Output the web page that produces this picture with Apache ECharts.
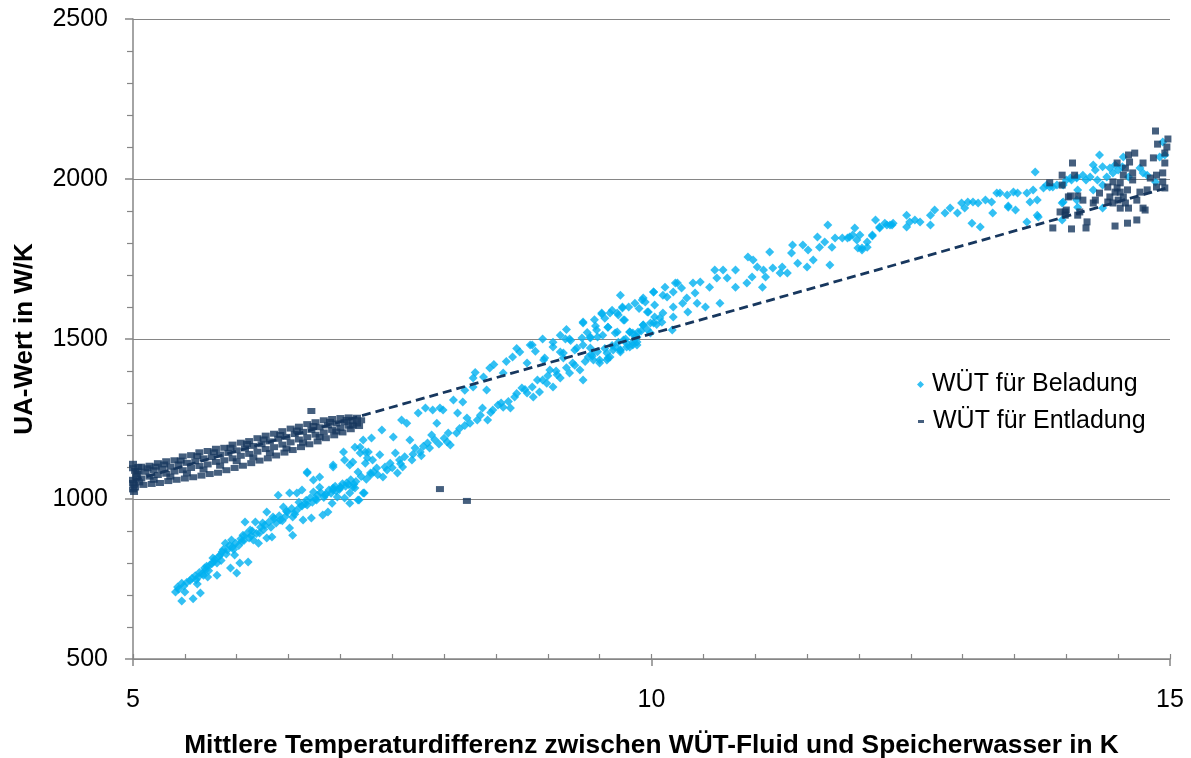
<!DOCTYPE html>
<html>
<head>
<meta charset="utf-8">
<script src="https://cdn.jsdelivr.net/npm/echarts@6/dist/echarts.min.js"></script>
<style>html,body{margin:0;padding:0;background:#fff}#c{width:1191px;height:758px}</style>
</head>
<body>
<div id="c"></div>
<script>
// ---- data ----
var xTicks = [5, 10, 15];
var yTicks = [500, 1000, 1500, 2000, 2500];
var seriesNames = ['WÜT für Beladung', 'WÜT für Entladung'];

// WÜT für Beladung (x in K, UA in W/K)
var beladung = [
[5.41,709],[5.43,725],[5.47,737],[5.47,681],[5.50,709],[5.58,688],[5.62,734],[5.63,756],[5.65,706],[5.68,762],
[5.69,784],[5.72,756],[5.74,794],[5.77,816],[5.81,800],[5.81,762],[5.84,825],[5.89,862],[5.91,841],[5.94,784],
[5.95,872],[5.98,825],[6.00,769],[6.03,800],[6.06,887],[6.08,928],[6.11,803],[6.13,903],[6.16,872],[6.18,928],
[6.21,862],[6.22,894],[6.25,925],[6.29,959],[6.29,878],[6.34,881],[6.35,944],[6.40,1012],[6.42,934],[6.45,975],
[6.49,959],[6.51,909],[6.54,944],[6.54,887],[6.58,1019],[6.61,975],[6.64,934],[6.68,1081],[6.68,981],[6.72,941],
[6.74,1022],[6.77,997],[6.83,950],[6.85,1012],[6.88,959],[6.93,1106],[6.93,1028],[7.00,1037],[7.03,1147],[7.04,1003],
[7.09,987],[7.12,1037],[7.18,997],[7.19,1162],[7.23,1019],[7.26,1128],[7.29,1075],
[5.55,745],[5.60,760],[5.70,778],[5.78,805],[5.86,835],[5.96,850],[6.05,868],[6.14,885],[6.26,905],[6.38,925],
[6.47,945],[6.57,962],[6.66,985],[6.76,1000],[6.86,1015],[6.96,1025],[7.08,1045],[7.15,1055],
[5.44,718],[5.49,728],[5.52,740],[5.57,752],[5.61,748],[5.64,770],[5.67,768],[5.71,790],[5.73,776],[5.76,798],
[5.79,812],[5.83,820],[5.85,808],[5.87,842],[5.90,828],[5.93,855],[5.97,842],[5.99,862],[6.02,855],[6.04,876],
[6.07,870],[6.09,890],[6.12,878],[6.15,900],[6.19,892],[6.23,912],[6.27,918],[6.31,928],[6.33,912],[6.36,938],
[6.41,948],[6.44,932],[6.48,962],[6.53,970],[6.56,952],[6.60,990],[6.63,978],[6.67,996],[6.71,1004],[6.73,990],
[6.78,1012],[6.81,1020],[6.84,1005],[6.89,1028],[6.91,1018],[6.95,1040],[6.99,1030],[7.02,1048],[7.05,1040],[7.10,1060],
[7.13,1046],[7.20,1070],[7.25,1062],[7.32,1085],[7.36,1076],[7.43,1100],[7.50,1098],[7.58,1110],[7.62,1132],[7.70,1140],
[7.78,1135],[7.80,1165],[7.91,1185],[7.95,1172],[8.00,1190],
[6.68,1084],[6.74,1059],[6.80,1069],[7.12,1116],[7.24,1147],[6.51,1019],[6.63,1028],[6.80,1037],
[6.93,1034],[7.00,1037],[7.06,1050],[7.09,1019],[7.14,1034],[7.22,1019],[7.17,997],[6.97,1006],[6.92,987],
[6.93,1100],[7.04,1122],[7.09,1106],[7.14,1162],[7.17,1084],[7.19,1144],[7.22,1184],[7.24,1112],[7.27,1147],
[7.29,1081],[7.30,1191],[7.31,1122],[7.35,1097],[7.38,1138],[7.40,1216],[7.41,1069],[7.45,1091],[7.48,1112],
[7.51,1194],[7.53,1144],[7.55,1081],[7.57,1122],[7.59,1247],[7.60,1100],[7.64,1237],[7.67,1184],[7.69,1122],
[7.72,1159],[7.75,1269],[7.77,1147],[7.82,1284],[7.84,1175],[7.86,1159],[7.88,1200],[7.89,1278],[7.93,1237],
[7.96,1284],[7.99,1278],[8.03,1178],[8.04,1206],[8.06,1169],[8.09,1309],[8.12,1206],[8.13,1269],[8.18,1303],
[8.22,1253],[8.25,1237],[8.28,1378],[8.28,1350],[8.32,1247],[8.37,1284],[8.38,1381],[8.41,1341],[8.42,1247],
[8.44,1409],[8.47,1278],[8.52,1294],[8.57,1394],[8.57,1287],[8.64,1284],[8.66,1444],[8.68,1319],[8.73,1459],
[8.75,1347],[8.80,1425],[8.80,1331],[8.83,1481],[8.86,1319],[8.90,1372],[8.92,1334],[8.96,1434],[8.99,1362],
[9.02,1403],[9.05,1350],[9.09,1388],[9.12,1512],[9.12,1378],[9.15,1456],[9.21,1394],[9.24,1425],[9.28,1472],
[9.31,1403],[9.34,1550],[9.34,1372],[9.39,1444],[9.41,1503],[9.44,1434],[9.47,1528],[9.50,1425],[9.53,1512],
[9.57,1456],[9.60,1444],[9.65,1475],[9.70,1466],[9.73,1497],[9.79,1475],[9.82,1519],[9.86,1491],[9.92,1544],
[9.99,1519],
[8.15,1220],[8.20,1230],[8.35,1262],[8.45,1270],[8.55,1300],[8.62,1305],[8.70,1330],[8.78,1342],[8.85,1350],
[8.95,1372],[9.00,1385],[9.08,1400],[9.18,1410],[9.26,1418],[9.36,1430],[9.42,1452],[9.48,1460],[9.55,1470],
[9.62,1480],[9.68,1490],[9.75,1500],[9.84,1508],[9.90,1525],[9.96,1530],[10.05,1545],[10.10,1552],
[8.20,1340],[8.30,1395],[8.48,1420],[8.60,1430],[8.70,1470],[8.88,1462],[8.95,1500],[9.05,1490],[9.18,1530],
[9.22,1495],[9.38,1520],[9.45,1560],[9.55,1565],[9.62,1590],[9.68,1575],[9.78,1600],[9.84,1612],[9.88,1595],
[9.52,1578],[9.60,1581],[9.67,1581],[9.72,1597],[9.74,1559],[9.34,1553],[9.46,1541],[9.58,1537],[9.17,1500],
[9.21,1500],[9.33,1503],[9.41,1506],[9.48,1506],[9.67,1522],[9.79,1522],[9.87,1522],[9.91,1622],[10.02,1647],
[10.23,1675],[10.11,1637],[10.21,1647],[9.97,1584],[10.03,1606],[10.21,1569],[10.02,1550],[8.85,1481],[9.05,1475],
[9.12,1459],[8.97,1441],[9.15,1441],[9.26,1466],[9.34,1481],[9.41,1472],[9.43,1447],[9.50,1434],[9.58,1441],
[9.70,1466],[9.76,1475],[9.82,1481],
[9.57,1434],[9.63,1466],[9.70,1459],[9.76,1487],[9.82,1491],[9.86,1481],
[9.52,1581],[9.58,1537],[9.65,1519],[9.70,1637],[9.72,1600],[9.73,1559],[9.79,1522],[9.86,1506],[9.92,1628],
[9.92,1544],[9.94,1616],[9.96,1584],[9.99,1550],[10.02,1647],[10.03,1569],[10.08,1566],[10.11,1581],[10.13,1662],
[10.15,1631],[10.20,1528],[10.21,1600],[10.25,1675],[10.29,1659],[10.30,1612],[10.34,1628],[10.35,1584],[10.40,1675],
[10.42,1644],[10.44,1612],[10.47,1678],[10.52,1600],[10.56,1662],[10.61,1716],[10.63,1691],[10.66,1612],[10.69,1716],
[10.73,1691],[10.81,1716],[10.81,1662],[10.92,1675],[10.93,1756],[10.97,1694],[10.98,1747],[11.02,1725],[11.07,1662],
[11.08,1716],[11.10,1694],[11.14,1772],[11.17,1722],[11.24,1706],[11.26,1725],[11.31,1706],[11.35,1769],[11.36,1794],
[11.41,1737],[11.46,1794],[11.50,1725],[11.51,1778],[11.56,1747],[11.60,1819],[11.62,1787],[11.67,1803],[11.70,1856],
[11.72,1731],[11.74,1787],[11.77,1816],[11.84,1816],[11.89,1816],[11.91,1819],[11.94,1825],[11.98,1809],[11.99,1784],
[12.03,1778],[12.08,1803],[12.13,1822],[12.16,1872],[12.20,1847],[12.25,1862],[12.30,1856],[12.33,1862],
[11.96,1847],[12.01,1825],[12.03,1784],[12.08,1787],[12.13,1825],[12.20,1850],[12.27,1856],[12.32,1856],
[12.46,1887],[12.46,1850],[12.49,1866],[12.54,1872],[12.59,1866],[12.69,1856],[12.69,1887],[12.73,1903],[12.83,1894],
[12.88,1909],[12.95,1894],[12.99,1925],[13.02,1909],[13.05,1928],[13.09,1862],[13.10,1928],[13.15,1925],[13.17,1850],
[13.22,1934],[13.28,1928],[13.29,1894],[13.33,1956],[13.43,1950],[13.44,1912],[13.49,1959],[13.51,1903],[13.53,1956],
[13.62,1866],[13.65,1928],[13.68,1966],[13.70,2022],[13.72,1934],[13.73,1881],[13.78,1972],[13.84,1975],[13.91,1981],
[13.97,1928],[14.00,1997],[14.04,2003],[14.10,2003],[14.11,1966],[14.11,1912],
[13.36,1956],[13.44,1916],[13.62,1956],[13.72,1887],[13.81,1981],[13.87,1975],[13.96,1925],[13.97,1981],[14.05,1997],
[14.10,2006],[14.16,2012],[14.19,1997],[14.23,2006],[14.26,2044],[14.28,2028],[14.30,1997],[14.32,2075],[14.35,2038],
[14.35,1981],[14.39,2006],[14.42,2034],[14.45,2019],[14.47,2044],[14.50,2028],[14.54,2038],[14.55,2069],[14.60,2006],
[14.71,2034],[14.74,2019],[14.78,2012],[14.86,1991],[14.90,2069],[14.93,2116],[14.95,2075],[14.10,1934],[14.26,1966],
[14.35,1909],[13.96,1872]
];

// WÜT für Entladung, dense band at low temperature difference
var entladungBand = [
[5.00,1096],[5.08,1101],[5.16,1104],[5.24,1112],[5.32,1118],[5.40,1121],[5.48,1133],[5.56,1137],[5.64,1146],[5.72,1150],
[5.80,1157],[5.88,1160],[5.96,1170],[6.04,1176],[6.12,1181],[6.20,1190],[6.28,1198],[6.36,1204],[6.44,1212],[6.52,1220],
[6.60,1226],[6.68,1234],[6.76,1240],[6.84,1246],[6.92,1250],[7.00,1253],[7.08,1255],[7.16,1254],
[5.04,1078],[5.12,1085],[5.20,1090],[5.28,1094],[5.36,1101],[5.44,1108],[5.52,1113],[5.60,1118],[5.68,1127],[5.76,1131],
[5.84,1139],[5.92,1144],[6.00,1152],[6.08,1158],[6.16,1166],[6.24,1171],[6.32,1180],[6.40,1188],[6.48,1194],[6.56,1203],
[6.64,1210],[6.72,1216],[6.80,1224],[6.88,1230],[6.96,1236],[7.04,1240],[7.12,1244],[7.20,1246],
[5.00,1060],[5.08,1064],[5.16,1070],[5.24,1075],[5.32,1079],[5.40,1086],[5.48,1090],[5.56,1097],[5.64,1103],[5.72,1108],
[5.80,1116],[5.88,1121],[5.96,1127],[6.04,1135],[6.12,1141],[6.20,1148],[6.28,1156],[6.36,1162],[6.44,1170],[6.52,1177],
[6.60,1186],[6.68,1193],[6.76,1201],[6.84,1208],[6.92,1216],[7.00,1222],[7.08,1229],[7.16,1236],
[5.02,1036],[5.10,1044],[5.18,1047],[5.26,1050],[5.34,1056],[5.42,1060],[5.50,1064],[5.58,1068],[5.66,1073],[5.74,1078],
[5.82,1082],[5.90,1090],[5.98,1097],[6.06,1104],[6.14,1112],[6.22,1120],[6.30,1127],[6.38,1136],[6.46,1145],[6.54,1153],
[6.62,1162],[6.70,1171],[6.78,1180],[6.86,1190],[6.94,1199],[7.02,1208],[7.10,1218],[7.18,1228],
[5.05,1086],[5.14,1096],[5.22,1101],[5.30,1108],[5.46,1120],[5.62,1134],[5.78,1146],[5.94,1160],[6.10,1172],[6.26,1186],
[6.42,1200],[6.58,1214],[6.74,1228],[6.90,1241],[7.06,1247],
[5.06,1052],[5.20,1060],[5.36,1070],[5.52,1080],[5.68,1092],[5.84,1104],[6.00,1118],[6.16,1130],[6.32,1144],[6.48,1158],
[6.64,1176],[6.80,1194],[6.96,1211],[7.12,1230],
[5.00,1030],[5.01,1045],[5.02,1088],[5.03,1070],[5.05,1100],[5.00,1050],[5.00,1110],[5.01,1022],
[6.72,1275],[7.96,1031],[8.22,994]
];

// WÜT für Entladung, cluster at high temperature difference
var entladungHigh = [
[14.86,2150],[14.98,2125],[14.88,2109],[14.97,2100],[14.95,2081],[14.95,2050],[14.84,2066],[14.66,2081],[14.60,2075],
[14.61,2053],[14.74,2050],[14.49,2050],[14.57,2034],[14.64,2019],[14.93,2019],[14.87,2012],[14.81,2003],[14.64,1997],
[14.55,2012],[14.52,1988],[14.45,1991],[14.40,1975],[14.49,1972],[14.59,1966],[14.55,1944],[14.50,1934],[14.57,1925],
[14.52,1909],[14.78,1966],[14.71,1959],[14.87,1975],[14.93,1991],[14.95,1972],[14.68,1934],[14.52,1959],[14.47,1959],
[14.42,1944],[14.40,1928],[14.45,1925],[14.32,1956],[14.28,1934],[14.26,1925],[14.60,1909],[14.74,1909],[14.76,1903],
[14.68,1872],[14.59,1862],[14.47,1853],[14.20,1866],[14.19,1847],[14.05,1844],[13.87,1847],[14.08,2012],[13.96,2012],
[13.84,1988],[13.96,1981],[14.11,1947],[14.16,1934],[14.02,1944],[13.99,1897],[13.94,1897],[14.00,1903],[14.13,1897],
[14.06,2050],[14.04,1947],[14.11,1887],[13.99,1887]
];

// linear trend of Entladung
var trendX = [5, 15];
var trendY = [1058, 1975];

// ---- chart ----
var LIGHT = '#00B0F0', DARK = '#17375E', GRAY = '#868686';
var FONT = 'Liberation Sans, Arial, sans-serif';
var chart = echarts.init(document.getElementById('c'));
var trend = trendX.map(function (x, i) { return [x, trendY[i]]; });

chart.setOption({
  animation: false,
  backgroundColor: '#fff',
  textStyle: { fontFamily: FONT },
  grid: { left: 133, right: 21, top: 19, bottom: 99, containLabel: false, outerBoundsMode: 'none' },
  legend: [
    { data: [{ name: seriesNames[0], icon: 'diamond' }], left: 912, top: 367, itemWidth: 7, itemHeight: 7,
      textStyle: { fontSize: 25, color: '#000', fontFamily: FONT, padding: [0, 0, 0, 3] } },
    { data: [{ name: seriesNames[1], icon: 'rect' }], left: 913, top: 404, itemWidth: 6, itemHeight: 3,
      textStyle: { fontSize: 25, color: '#000', fontFamily: FONT, padding: [0, 0, 0, 4] } }
  ],
  xAxis: [
    { type: 'value', min: xTicks[0], max: xTicks[xTicks.length - 1], interval: xTicks[1] - xTicks[0],
      name: 'Mittlere Temperaturdifferenz zwischen WÜT-Fluid und Speicherwasser in K',
      nameLocation: 'middle', nameGap: 74,
      nameTextStyle: { fontSize: 26.3, fontWeight: 'bold', color: '#000', fontFamily: FONT },
      axisLine: { show: true, lineStyle: { color: GRAY, width: 1.5 } },
      axisTick: { show: true, inside: false, length: 7, lineStyle: { color: GRAY, width: 1.5 } },
      axisLabel: { fontSize: 25, color: '#000', margin: 29, fontFamily: FONT, formatter: function (v) { return String(v); } },
      splitLine: { show: false } },
    { type: 'value', min: xTicks[0], max: xTicks[xTicks.length - 1], interval: 0.5, position: 'bottom',
      axisLine: { show: false },
      axisTick: { show: true, inside: true, length: 5, lineStyle: { color: GRAY, width: 1.2 } },
      axisLabel: { show: false }, splitLine: { show: false } }
  ],
  yAxis: {
    type: 'value', min: yTicks[0], max: yTicks[yTicks.length - 1], interval: yTicks[1] - yTicks[0],
    name: 'UA-Wert in W/K', nameLocation: 'middle', nameGap: 95, nameRotate: 90,
    nameTextStyle: { fontSize: 26, fontWeight: 'bold', color: '#000', fontFamily: FONT },
    axisLine: { show: true, lineStyle: { color: GRAY, width: 1.5 } },
    axisTick: { show: true, inside: false, length: 8, lineStyle: { color: GRAY, width: 1.5 } },
    minorTick: { show: true, splitNumber: 5, length: 6, lineStyle: { color: GRAY, width: 1.2 } },
    axisLabel: { fontSize: 25, color: '#000', margin: 25, fontFamily: FONT, formatter: function (v) { return String(v); } },
    splitLine: { show: true, lineStyle: { color: GRAY, width: 1.2 } }
  },
  series: [
    { name: seriesNames[0], type: 'scatter', data: beladung, symbol: 'diamond', symbolSize: 9,
      itemStyle: { color: LIGHT }, z: 2 },
    { name: seriesNames[1], type: 'scatter', data: entladungBand, symbol: 'rect', symbolSize: [8, 6],
      itemStyle: { color: DARK }, z: 3 },
    { name: seriesNames[1], type: 'scatter', data: entladungHigh, symbol: 'rect', symbolSize: 7,
      itemStyle: { color: DARK }, z: 3 },
    { name: 'Trend', type: 'line', data: trend, showSymbol: false, symbol: 'none', silent: true,
      lineStyle: { color: DARK, width: 2.8, type: [9, 5] }, z: 4 }
  ]
});
</script>
</body>
</html>
